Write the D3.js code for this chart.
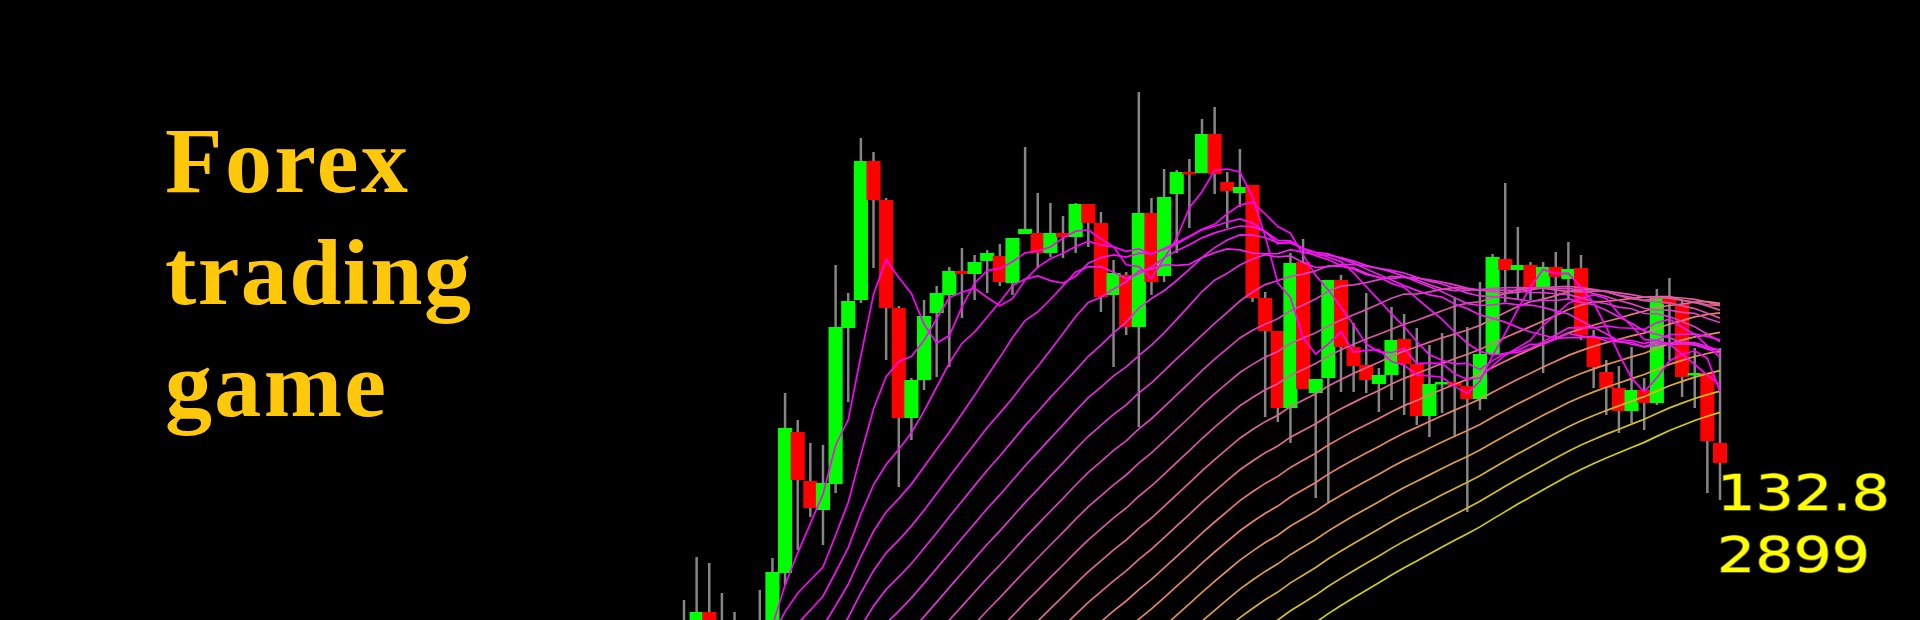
<!DOCTYPE html>
<html>
<head>
<meta charset="utf-8">
<script src="https://cdn.jsdelivr.net/npm/d3@7"></script>
<style>
  html, body { margin: 0; background: #000; }
  svg { display: block; }
</style>
</head>
<body>
<svg id="chart" width="1920" height="620"></svg>
<script>
// --- data -------------------------------------------------------------
const titleLines = ['Forex', 'trading', 'game'];
const priceLabel = ['132.8', '2899'];

// one candle per bar, oldest first
const opens = [
  132.640, 132.650, 132.688, 132.655, 132.670, 132.660, 132.645, 132.670, 132.727, 132.868,
  132.819, 132.790, 132.816, 132.972, 133.000, 133.139, 133.100, 132.992, 132.882, 132.920,
  132.987, 133.005, 133.029, 133.026, 133.039, 133.044, 133.017, 133.066, 133.067, 133.047,
  133.067, 133.063, 133.096, 133.077, 133.005, 133.025, 132.973, 133.087, 133.024, 133.106,
  133.128, 133.127, 133.166, 133.118, 133.107, 133.115, 133.002, 132.969, 132.892, 133.038,
  132.907, 132.922, 133.020, 132.953, 132.935, 132.916, 132.925, 132.961, 132.936, 132.884,
  132.916, 132.918, 132.914, 132.901, 132.946, 133.041, 133.030, 133.035, 133.013, 133.033,
  133.021, 133.032, 132.963, 132.928, 132.912, 132.889, 132.910, 132.897, 133.003, 132.996,
  132.925, 132.927, 132.857
];
const highs = [
  132.700, 132.743, 132.737, 132.707, 132.688, 132.675, 132.710, 132.742, 132.907, 132.880,
  132.857, 132.855, 133.035, 133.007, 133.162, 133.148, 133.102, 132.994, 132.922, 133.000,
  133.014, 133.033, 133.052, 133.045, 133.050, 133.056, 133.062, 133.153, 133.107, 133.097,
  133.084, 133.097, 133.096, 133.088, 133.040, 133.028, 133.208, 133.102, 133.131, 133.130,
  133.141, 133.181, 133.193, 133.128, 133.151, 133.115, 133.008, 132.969, 133.047, 133.061,
  132.921, 133.020, 133.025, 132.977, 133.007, 132.932, 132.993, 132.986, 132.972, 132.955,
  132.967, 133.003, 132.973, 133.018, 133.046, 133.117, 133.073, 133.038, 133.038, 133.048,
  133.058, 133.045, 132.970, 132.940, 132.934, 132.953, 132.922, 133.011, 133.022, 133.000,
  132.952, 132.927, 132.952
];
const lows = [
  132.620, 132.640, 132.640, 132.635, 132.645, 132.630, 132.632, 132.660, 132.715, 132.750,
  132.783, 132.755, 132.807, 132.898, 132.997, 133.032, 132.940, 132.813, 132.860, 132.910,
  132.923, 132.933, 132.982, 133.000, 133.007, 133.014, 133.005, 133.066, 133.032, 133.043,
  133.042, 133.047, 133.053, 132.988, 132.933, 132.965, 132.873, 133.005, 133.018, 133.047,
  133.072, 133.127, 133.106, 133.072, 133.093, 132.998, 132.883, 132.878, 132.857, 132.911,
  132.802, 132.798, 132.908, 132.908, 132.907, 132.888, 132.900, 132.885, 132.875, 132.863,
  132.887, 132.863, 132.788, 132.890, 132.946, 132.998, 133.000, 133.000, 132.927, 132.960,
  133.000, 132.960, 132.912, 132.885, 132.867, 132.877, 132.870, 132.895, 132.940, 132.903,
  132.892, 132.807, 132.800
];
const closes = [
  132.660, 132.688, 132.655, 132.670, 132.660, 132.645, 132.670, 132.728, 132.872, 132.820,
  132.792, 132.817, 132.973, 132.999, 133.139, 133.100, 132.992, 132.882, 132.920, 132.984,
  133.007, 133.029, 133.026, 133.038, 133.047, 133.018, 133.062, 133.071, 133.047, 133.067,
  133.063, 133.096, 133.077, 133.003, 133.027, 132.973, 133.087, 133.018, 133.103, 133.128,
  133.126, 133.166, 133.126, 133.109, 133.113, 133.002, 132.969, 132.892, 133.037, 132.911,
  132.921, 133.020, 132.953, 132.934, 132.920, 132.925, 132.960, 132.936, 132.884, 132.916,
  132.918, 132.914, 132.901, 132.946, 133.043, 133.030, 133.035, 133.011, 133.033, 133.023,
  133.031, 132.965, 132.933, 132.912, 132.889, 132.910, 132.897, 133.003, 132.996, 132.923,
  132.927, 132.859, 132.837
];

// closes of the bars before the first one shown (all below the visible range)
const earlierCloses = [
  131.641, 131.648, 131.663, 131.669, 131.682, 131.685, 131.700, 131.706, 131.722, 131.728,
  131.740, 131.747, 131.760, 131.765, 131.779, 131.786, 131.800, 131.803, 131.819, 131.825,
  131.840, 131.845, 131.859, 131.864, 131.880, 131.883, 131.901, 131.904, 131.920, 131.926,
  131.938, 131.944, 131.960, 131.964, 131.979, 131.987, 131.998, 132.006, 132.019, 132.024,
  132.041, 132.045, 132.060, 132.066, 132.079, 132.085, 132.100, 132.104, 132.121, 132.125,
  132.140, 132.146, 132.158, 132.167, 132.179, 132.185, 132.200, 132.206, 132.219, 132.227,
  132.238, 132.247, 132.259, 132.266, 132.280, 132.285, 132.301, 132.307, 132.320, 132.325,
  132.341, 132.346, 132.360, 132.366, 132.379, 132.387, 132.400, 132.407, 132.419, 132.428,
  132.440, 132.452, 132.460, 132.475, 132.482, 132.497, 132.504, 132.519, 132.526, 132.542,
  132.548, 132.563, 132.570, 132.586, 132.592, 132.607, 132.614, 132.630, 132.636
];

// moving average ribbon periods (simple MAs)
const maPeriods = [5, 10, 15, 20, 25, 30, 35, 40, 45, 50, 55, 60, 65, 70, 75, 80, 85, 90, 95, 100];

// --- chart ------------------------------------------------------------
const svg = d3.select('#chart');
const width = +svg.attr('width');
const height = +svg.attr('height');

svg.append('rect')
  .attr('width', width)
  .attr('height', height)
  .attr('fill', '#000');

const x = d3.scaleLinear()
  .domain([0, closes.length - 1])
  .range([684, 1720]);
const y = d3.scaleLinear()
  .domain([132.68, 133.30])
  .range([height, 0]);

const step = x(1) - x(0);
const bodyW = step * 1.12;
const bars = closes.map((c, i) => ({ i, o: opens[i], h: highs[i], l: lows[i], c }));

// wicks
svg.append('g')
  .attr('class', 'wicks')
  .selectAll('line')
  .data(bars)
  .enter()
  .append('line')
  .attr('x1', d => x(d.i))
  .attr('x2', d => x(d.i))
  .attr('y1', d => y(d.h))
  .attr('y2', d => y(d.l))
  .attr('stroke', '#858585')
  .attr('stroke-width', 2.5);

// bodies
svg.append('g')
  .attr('class', 'bodies')
  .selectAll('rect')
  .data(bars)
  .enter()
  .append('rect')
  .attr('x', d => x(d.i) - bodyW / 2)
  .attr('width', bodyW)
  .attr('y', d => y(Math.max(d.o, d.c)))
  .attr('height', d => Math.max(2.5, Math.abs(y(d.o) - y(d.c))))
  .attr('fill', d => d.c >= d.o ? '#00ff00' : '#ff0000');

// moving averages
const allCloses = earlierCloses.concat(closes);
const offset = earlierCloses.length;
const maSeries = maPeriods.map((n, k) => ({
  k,
  pts: closes.map((c, i) => {
    const end = offset + i + 1;
    return { i, v: d3.mean(allCloses.slice(end - n, end)) };
  })
}));

const maColor = d3.scaleLinear()
  .domain([0, 0.3, 0.45, 0.6, 0.72, 0.82, 0.92, 1])
  .range(['#ff00ff', '#e828e8', '#d848b8', '#e06890', '#e88070', '#e09848', '#d8b828', '#d4d000']);

const line = d3.line()
  .x(d => x(d.i))
  .y(d => y(d.v));

svg.append('g')
  .attr('class', 'ma')
  .selectAll('path')
  .data(maSeries.slice().reverse())
  .enter()
  .append('path')
  .attr('d', d => line(d.pts))
  .attr('fill', 'none')
  .attr('stroke', d => maColor(d.k / (maPeriods.length - 1)))
  .attr('stroke-width', 1.7);

// title
const titleWidths = [243, 306, 221];
svg.append('g')
  .selectAll('text')
  .data(titleLines)
  .enter()
  .append('text')
  .attr('x', 165)
  .attr('y', (d, i) => 192 + i * 112)
  .attr('textLength', (d, i) => titleWidths[i])
  .attr('lengthAdjust', 'spacing')
  .style('font-family', '"Liberation Serif", "DejaVu Serif", serif')
  .style('font-weight', 'bold')
  .style('font-size', '94px')
  .attr('fill', '#ffc80a')
  .text(d => d);

// current price
const labelWidths = [173, 153];
svg.append('g')
  .selectAll('text')
  .data(priceLabel)
  .enter()
  .append('text')
  .attr('x', 1717)
  .attr('y', (d, i) => 510 + i * 62)
  .attr('textLength', (d, i) => labelWidths[i])
  .attr('lengthAdjust', 'spacingAndGlyphs')
  .style('font-family', '"DejaVu Sans", Verdana, sans-serif')
  .style('font-size', '50px')
  .attr('fill', '#ffff00')
  .attr('stroke', '#6a6a00')
  .attr('stroke-width', 1.5)
  .style('paint-order', 'stroke')
  .text(d => d);
</script>
</body>
</html>
